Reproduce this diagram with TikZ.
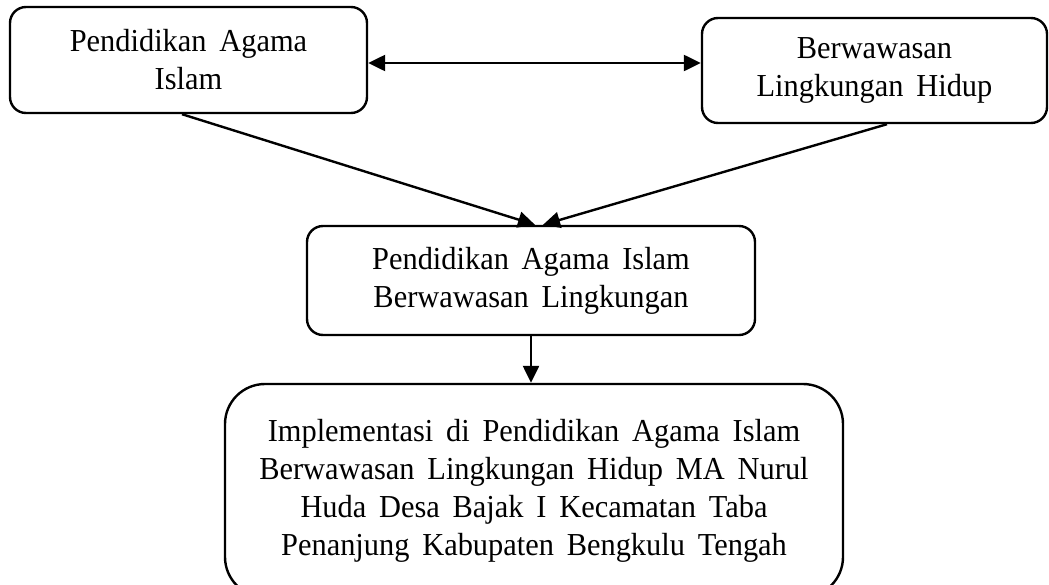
\documentclass[tikz,border=0pt]{standalone}
\usepackage{fontspec}
\setmainfont[FakeStretch=0.95]{Liberation Serif}
\usetikzlibrary{arrows.meta}
\usetikzlibrary{calc}
\newcommand{\boxfont}{\fontsize{16}{19}\selectfont\spaceskip=0.4em plus 0.1em\relax}

\begin{document}
\begin{tikzpicture}[x=0.5pt, y=-0.5pt, line width=1.2pt,
        box_style/.style={draw=black, rounded corners=8pt, align=center, inner sep=0pt, font=\boxfont},
        big_box_style/.style={box_style, rounded corners=20pt},
        edge_style/.style={draw=black, line width=1.2pt, -{Triangle[length=8.5pt,width=8pt]}},
        both_edge_style/.style={draw=black, line width=1.2pt, {Triangle[length=8.5pt,width=8pt]}-{Triangle[length=8.5pt,width=8pt]}}]

        \useasboundingbox (0,0) rectangle (1049,584);

        \node [box_style, minimum width=178.5pt, minimum height=53pt] (n1) at (188.5,60) {Pendidikan Agama\\Islam};

        \node [box_style, minimum width=172.5pt, minimum height=52.5pt] (n2) at (874.5,70.5) {Berwawasan\\Lingkungan Hidup};

        \node [box_style, minimum width=224pt, minimum height=54.5pt] (n3) at (531,280.5) {Pendidikan Agama Islam\\Berwawasan Lingkungan};

        \node [big_box_style, minimum width=309pt, minimum height=106.5pt] (n4) at (534,490.5) {Implementasi di Pendidikan Agama Islam\\Berwawasan Lingkungan Hidup MA Nurul\\Huda Desa Bajak I Kecamatan Taba\\Penanjung Kabupaten Bengkulu Tengah};

        \draw [both_edge_style] ([yshift=-1.5pt]n1.east) -- ([yshift=-1.5pt]n1.east -| n2.west);

        \draw [edge_style] ([xshift=-3.25pt]n1.south) -- ([xshift=2pt]n3.north);

        \draw [edge_style] ([xshift=6.25pt]n2.south) -- ([xshift=6pt]n3.north);

        \draw [edge_style] (n3.south) -- (n3.south |- n4.north);

\end{tikzpicture}
\end{document}
